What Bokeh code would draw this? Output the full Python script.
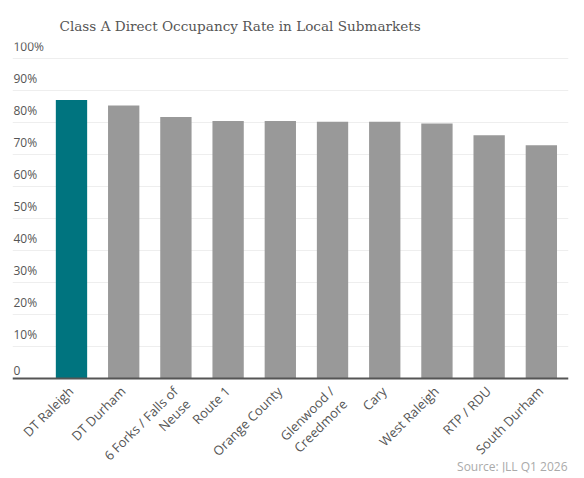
from bokeh.plotting import figure
from bokeh.models import FixedTicker, ColumnDataSource, Range1d, Span
from bokeh.core.properties import value
from bokeh.embed import file_html
from bokeh.resources import INLINE
import math

categories = ["DT Raleigh", "DT Durham", "6 Forks / Falls of\nNeuse", "Route 1",
              "Orange County", "Glenwood /\nCreedmore", "Cary", "West Raleigh",
              "RTP / RDU", "South Durham"]
occupancy = [87.0, 85.3, 81.7, 80.5, 80.5, 80.2, 80.2, 79.7, 76.0, 72.9]
highlight = "DT Raleigh"
y_ticks = [0, 10, 20, 30, 40, 50, 60, 70, 80, 90, 100]
y_tick_labels = ["0", "10%", "20%", "30%", "40%", "50%", "60%", "70%", "80%", "90%", "100%"]
title_text = "Class A Direct Occupancy Rate in Local Submarkets"
source_text = "Source: JLL Q1 2026"

TEAL = "#00747f"
GREY = "#999999"
TEXT = "#555555"

xs = list(range(len(categories)))
colors = [TEAL if c == highlight else GREY for c in categories]
src = ColumnDataSource(dict(x=xs, top=occupancy, color=colors))

x_start, x_end = -1.13, len(categories) - 0.48
y_start, y_end = -29.4, 105.0

p = figure(width=576, height=474, output_backend="svg", toolbar_location=None,
           x_range=Range1d(x_start, x_end), y_range=Range1d(y_start, y_end),
           min_border_left=12, min_border_right=8, min_border_top=42,
           min_border_bottom=2)
p.outline_line_color = None
p.background_fill_color = "white"
p.xaxis.visible = False
p.yaxis.visible = False
p.xgrid.grid_line_color = None
p.ygrid.ticker = FixedTicker(ticks=y_ticks)
p.ygrid.grid_line_color = "#eeeeee"
p.ygrid.grid_line_width = 1

p.vbar(x="x", top="top", width=0.6, bottom=0, color="color", line_color=None, source=src)

# baseline (x axis line)
p.add_layout(Span(location=0, dimension="width", line_color=TEXT, line_width=2))

# y tick labels, inside the plot above the grid lines
lab_src = ColumnDataSource(dict(x=[x_start] * len(y_ticks), y=y_ticks, t=y_tick_labels))
p.text(x="x", y="y", text="t", source=lab_src, x_offset=1, y_offset=-3,
       text_align="left", text_baseline="bottom", text_font=value("Open Sans"),
       text_font_size="12px", text_color=TEXT)

# x category labels, rotated 45 degrees
cat_src = ColumnDataSource(dict(x=xs, y=[0] * len(xs), t=categories))
p.text(x="x", y="y", text="t", source=cat_src, angle=math.pi / 4,
       x_offset=-7, y_offset=4, text_align="right", text_baseline="top",
       text_line_height=1.0,
       text_font=value("Open Sans"), text_font_size="13px", text_color=TEXT)

# source note
p.text(x=[x_end], y=[-27.5], text=[source_text], x_offset=-1,
       text_align="right", text_baseline="middle", text_font=value("Open Sans"),
       text_font_size="12px", text_color="#aaaaaa")

p.title.text = title_text
p.title.text_font = "DejaVu Serif"
p.title.text_font_style = "normal"
p.title.text_font_size = "13.6px"
p.title.text_color = TEXT
p.title.align = "left"
p.title.offset = 47
p.title.standoff = 17

open("out.html", "w").write(file_html(p, INLINE))
